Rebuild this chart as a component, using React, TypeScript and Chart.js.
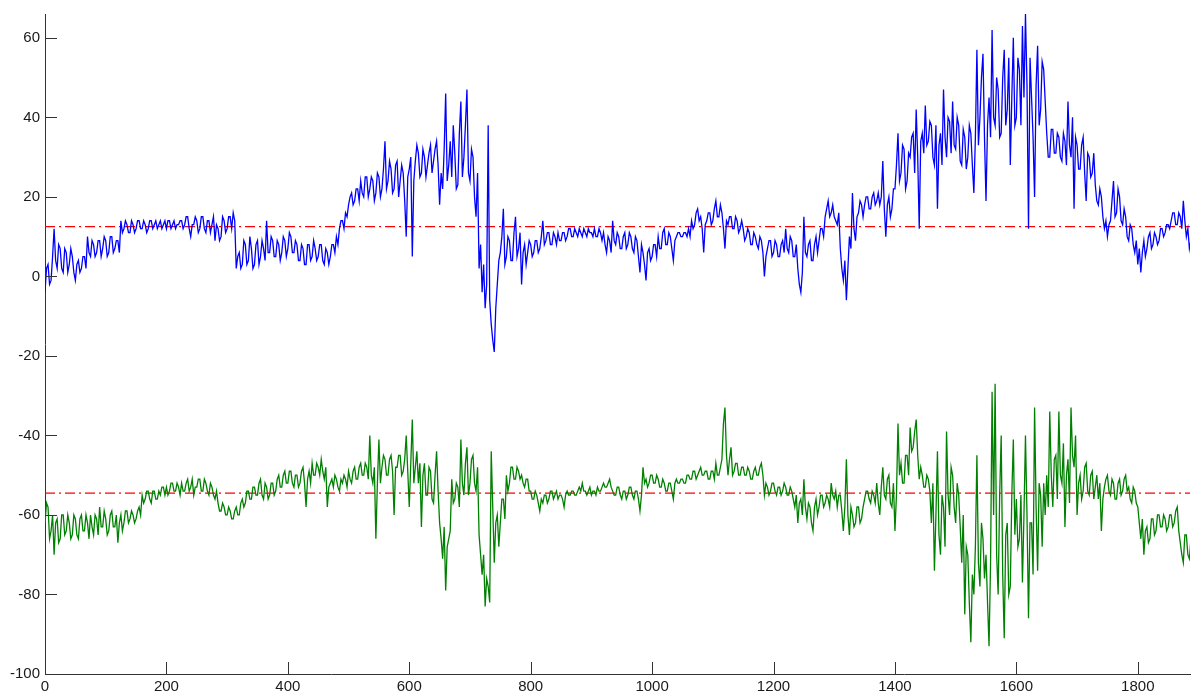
import { useEffect, useRef } from 'react';
import { Chart, registerables } from 'chart.js';

Chart.register(...registerables);

const SAMPLE_STEP = 5;

// upper (blue) series, one reading every 5 x-units from 0 to 1885
const blueValues = [
  -4, 3, -1, 12, 2, 7, 1, 6, 3, 5,
  -1, 4, 2, 5, 10, 5, 8, 6, 9, 7,
  9, 6, 10, 7, 9, 14, 12, 13, 11, 13,
  12, 14, 12, 13, 12, 14, 13, 12, 14, 13,
  12, 14, 13, 12, 13, 14, 13, 15, 10, 13,
  14, 12, 15, 11, 14, 13, 9, 12, 10, 14,
  12, 15, 16, 2, 6, 3, 8, 4, 7, 3,
  9, 5, 7, 14, 6, 9, 5, 8, 6, 9,
  7, 10, 6, 8, 4, 7, 3, 8, 5, 7,
  5, 8, 3, 6, 5, 8, 10, 12, 14, 16,
  18, 21, 19, 22, 24, 20, 25, 22, 24, 21,
  25, 22, 34, 24, 27, 22, 29, 24, 26, 10,
  27, 5, 29, 31, 26, 30, 28, 33, 29, 34,
  18, 22, 46, 28, 25, 31, 23, 44, 30, 47,
  24, 30, 15, 2, -4, -8, 38, -12, -19, -2,
  6, 17, 5, 9, 4, 15, 7, -2, 8, 6,
  8, 6, 9, 7, 14, 9, 11, 8, 10, 11,
  9, 11, 10, 12, 10, 11, 12, 10, 11, 12,
  11, 12, 10, 11, 11, 6, 9, 14, 8, 10,
  7, 11, 8, 10, 6, 9, 1, 6, -1, 7,
  5, 8, 10, 7, 12, 8, 10, 4, 10, 11,
  10, 11, 12, 14, 13, 17, 15, 6, 14, 16,
  14, 19, 15, 16, 7, 13, 15, 12, 14, 12,
  12, 10, 11, 8, 10, 7, 9, 0, 7, 9,
  6, 8, 5, 9, 12, 6, 9, 5, 2, -4,
  15, 5, 9, 4, 10, 9, 12, 15, 19, 16,
  15, 13, 7, -1, -6, 10, 21, 9, 16, 18,
  18, 20, 17, 21, 19, 18, 29, 10, 20, 17,
  22, 36, 26, 32, 24, 30, 36, 42, 12, 36,
  43, 34, 38, 28, 17, 36, 47, 30, 39, 44,
  32, 38, 28, 35, 30, 36, 21, 57, 40, 56,
  19, 45, 62, 38, 47, 36, 57, 42, 28, 60,
  40, 52, 63, 66, 12, 45, 20, 58, 42, 52,
  36, 30, 37, 31, 35, 29, 34, 44, 30, 17,
  33, 27, 35, 19, 30, 26, 23, 18, 20, 12,
  10, 14, 24, 16, 20, 13, 15, 9, 12, 6,
  3, 1, 9, 7, 11, 8, 10, 9, 12, 11,
  13, 14, 16, 13, 15, 19, 10, 7,
];

// blue readings half-way between the samples above (x = 2.5, 7.5, ...)
const blueMidValues = [
  2, -2, 5, 4, 8, 2, 7, 1, 7, 1,
  3, 1, 5, 2, 6, 9, 5, 9, 5, 10,
  5, 10, 6, 9, 6, 11, 14, 11, 14, 11,
  14, 12, 14, 11, 14, 12, 14, 13, 12, 14,
  14, 12, 14, 13, 14, 12, 15, 12, 13, 15,
  11, 15, 12, 14, 11, 15, 13, 9, 15, 11,
  15, 12, 14, 5, 2, 9, 3, 10, 2, 8,
  3, 9, 4, 6, 10, 5, 9, 4, 10, 5,
  11, 6, 9, 4, 8, 3, 8, 4, 9, 4,
  8, 4, 7, 3, 8, 6, 8, 14, 12, 15,
  20, 18, 22, 19, 21, 25, 20, 25, 19, 26,
  20, 27, 22, 29, 21, 28, 20, 28, 19, 25,
  30, 24, 33, 25, 32, 25, 31, 26, 32, 28,
  26, 32, 24, 34, 38, 22, 36, 25, 38, 26,
  32, 20, 26, 8, 3, -2, -6, -16, -8, 4,
  10, 3, 10, 4, 11, 5, 11, 6, 3, 9,
  5, 9, 6, 10, 8, 11, 8, 11, 8, 9,
  11, 9, 12, 10, 12, 10, 11, 12, 10, 11,
  10, 10, 12, 9, 8, 10, 6, 9, 11, 7,
  10, 7, 11, 7, 10, 5, 8, 3, 6, 4,
  8, 5, 7, 11, 8, 11, 7, 9, 11, 10,
  11, 10, 10, 12, 16, 14, 12, 13, 16, 13,
  17, 15, 18, 12, 14, 15, 12, 15, 11, 14,
  9, 12, 8, 11, 8, 10, 6, 5, 9, 5,
  9, 5, 8, 6, 7, 10, 5, 8, -2, 1,
  6, 8, 4, 8, 6, 12, 10, 17, 15, 18,
  14, 16, 2, 4, 2, 7, 12, 15, 19, 15,
  20, 17, 20, 18, 21, 20, 17, 18, 15, 22,
  28, 24, 33, 22, 31, 35, 26, 30, 34, 31,
  33, 39, 30, 38, 33, 28, 35, 40, 31, 33,
  40, 29, 37, 27, 38, 28, 35, 33, 50, 35,
  38, 35, 40, 50, 35, 50, 38, 55, 45, 38,
  55, 38, 45, 48, 55, 35, 48, 38, 54, 44,
  30, 37, 31, 36, 30, 36, 28, 33, 40, 35,
  27, 33, 26, 31, 25, 31, 19, 22, 15, 14,
  13, 19, 15, 22, 14, 17, 10, 13, 8, 9,
  7, 6, 5, 10, 7, 11, 8, 12, 10, 13,
  12, 16, 13, 16, 12, 14, 12, 9,
];

// lower (green) series, same sampling as blueValues
const greenValues = [
  -62, -58, -64, -70, -61, -66, -60, -64, -62, -65,
  -61, -66, -60, -64, -62, -60, -65, -61, -58, -63,
  -61, -64, -59, -63, -67, -60, -62, -59, -61, -60,
  -61, -58, -55, -56, -54, -57, -54, -56, -55, -53,
  -53, -54, -52, -54, -53, -52, -54, -51, -53, -55,
  -53, -51, -54, -52, -55, -53, -56, -57, -59, -58,
  -60, -59, -61, -58, -60, -56, -57, -54, -56, -53,
  -55, -51, -56, -53, -55, -52, -54, -50, -53, -49,
  -52, -49, -53, -50, -52, -48, -58, -49, -47, -50,
  -48, -46, -51, -58, -52, -53, -51, -54, -52, -51,
  -49, -52, -48, -51, -47, -50, -48, -40, -52, -66,
  -41, -48, -46, -50, -45, -60, -48, -45, -49, -40,
  -58, -36, -48, -52, -63, -47, -55, -49, -57, -44,
  -62, -71, -79, -66, -51, -56, -53, -41, -55, -43,
  -52, -45, -54, -65, -75, -83, -78, -44, -72, -60,
  -62, -56, -50, -52, -48, -51, -49, -50, -53, -51,
  -54, -56, -55, -59, -57, -55, -56, -54, -55, -56,
  -55, -58, -54, -55, -54, -55, -53, -52, -54, -54,
  -55, -54, -53, -54, -52, -53, -51, -54, -55, -53,
  -56, -54, -55, -53, -56, -54, -59, -48, -51, -52,
  -50, -52, -51, -53, -52, -54, -52, -56, -51, -52,
  -51, -52, -50, -51, -49, -50, -48, -50, -49, -51,
  -49, -47, -50, -46, -33, -50, -43, -49, -47, -50,
  -48, -50, -49, -51, -48, -50, -47, -55, -53, -54,
  -52, -55, -53, -54, -53, -55, -54, -58, -62, -56,
  -51, -61, -58, -64, -56, -58, -55, -57, -56, -52,
  -56, -58, -55, -64, -46, -65, -60, -62, -58, -61,
  -56, -54, -57, -55, -52, -60, -48, -56, -50, -58,
  -64, -37, -47, -52, -45, -38, -43, -36, -51, -50,
  -53, -51, -62, -74, -44, -70, -58, -39, -60, -50,
  -62, -55, -72, -85, -70, -92, -80, -45, -78, -66,
  -70, -93, -29, -27, -80, -40, -91, -62, -78, -41,
  -56, -66, -77, -40, -86, -62, -33, -74, -55, -52,
  -50, -34, -58, -45, -34, -52, -63, -46, -33, -48,
  -60, -50, -54, -47, -55, -49, -53, -56, -64, -53,
  -50, -55, -52, -56, -51, -54, -50, -53, -57, -54,
  -58, -66, -70, -63, -66, -61, -64, -60, -63, -61,
  -63, -60, -62, -58, -67, -72, -65, -71,
];

// green readings half-way between the samples above
const greenMidValues = [
  -57, -66, -60, -62, -67, -60, -65, -60, -66, -60,
  -65, -61, -64, -60, -66, -63, -60, -65, -63, -59,
  -65, -60, -63, -60, -62, -64, -59, -62, -59, -62,
  -59, -60, -57, -54, -56, -54, -56, -54, -53, -55,
  -55, -52, -54, -52, -55, -54, -52, -54, -51, -53,
  -51, -54, -51, -54, -52, -55, -54, -59, -57, -60,
  -58, -61, -59, -60, -57, -58, -54, -56, -53, -55,
  -52, -55, -52, -56, -52, -55, -51, -53, -50, -52,
  -49, -52, -50, -53, -49, -52, -51, -52, -50, -47,
  -50, -49, -48, -53, -51, -50, -53, -51, -50, -53,
  -51, -49, -51, -48, -50, -47, -51, -50, -48, -52,
  -52, -45, -50, -46, -49, -48, -45, -50, -46, -49,
  -47, -52, -44, -47, -50, -55, -48, -56, -50, -54,
  -66, -63, -68, -64, -57, -52, -58, -52, -47, -55,
  -46, -52, -48, -70, -70, -76, -82, -58, -62, -68,
  -56, -61, -54, -48, -51, -48, -51, -52, -51, -54,
  -56, -54, -57, -56, -55, -57, -54, -56, -54, -55,
  -56, -55, -55, -54, -55, -54, -54, -54, -55, -53,
  -54, -55, -54, -53, -53, -52, -53, -55, -53, -55,
  -54, -56, -53, -55, -54, -56, -55, -52, -53, -50,
  -52, -50, -53, -51, -54, -52, -54, -52, -52, -51,
  -52, -50, -51, -49, -51, -49, -50, -49, -51, -49,
  -51, -50, -48, -37, -45, -46, -50, -47, -50, -48,
  -50, -48, -51, -49, -50, -48, -50, -52, -55, -52,
  -54, -53, -55, -52, -55, -53, -56, -55, -57, -60,
  -58, -57, -62, -58, -60, -55, -58, -55, -58, -55,
  -54, -55, -59, -58, -60, -58, -63, -58, -62, -58,
  -54, -56, -54, -57, -57, -53, -55, -51, -57, -52,
  -55, -50, -52, -45, -50, -44, -39, -45, -48, -53,
  -50, -54, -52, -60, -65, -55, -68, -55, -48, -58,
  -52, -63, -60, -68, -82, -75, -68, -72, -62, -76,
  -82, -72, -60, -70, -55, -75, -65, -80, -55, -65,
  -68, -55, -60, -60, -62, -75, -58, -52, -68, -60,
  -58, -50, -46, -56, -50, -42, -50, -57, -45, -40,
  -52, -56, -48, -54, -50, -56, -50, -52, -56, -51,
  -54, -51, -56, -52, -55, -51, -54, -56, -53, -57,
  -62, -61, -64, -67, -61, -65, -60, -63, -60, -64,
  -60, -63, -59, -64, -70, -65, -70, -66,
];

// mean reference levels (red dash-dot lines)
const meanLevels = [12.5, -54.5];

const xRange = [0, 1886];
const yRange = [-100, 66];
const xTickValues = [0, 200, 400, 600, 800, 1000, 1200, 1400, 1600, 1800];
const yTickValues = [-100, -80, -60, -40, -20, 0, 20, 40, 60];

const AXIS_COLOR = '#333333';
const FONT = { family: '"Liberation Sans", Arial, Helvetica, sans-serif', size: 15 };

const inwardTicks = {
  id: 'inwardTicks',
  afterDraw(chart: any) {
    const { ctx, chartArea, scales } = chart;
    ctx.save();
    ctx.strokeStyle = AXIS_COLOR;
    ctx.lineWidth = 1;
    scales.x.ticks.forEach((t: any) => {
      const px = Math.round(scales.x.getPixelForValue(t.value)) + 0.5;
      ctx.beginPath();
      ctx.moveTo(px, chartArea.bottom);
      ctx.lineTo(px, chartArea.bottom - 12);
      ctx.stroke();
    });
    scales.y.ticks.forEach((t: any) => {
      const py = Math.round(scales.y.getPixelForValue(t.value)) + 0.5;
      ctx.beginPath();
      ctx.moveTo(chartArea.left, py);
      ctx.lineTo(chartArea.left + 12, py);
      ctx.stroke();
    });
    ctx.restore();
  },
};

export default function App() {
  const canvasRef = useRef<HTMLCanvasElement | null>(null);

  useEffect(() => {
    document.body.style.margin = '0';
    const canvas = canvasRef.current;
    if (!canvas) return;

    const toPoints = (vals: number[], mids: number[]) => {
      const pts: { x: number; y: number }[] = [];
      vals.forEach((v, i) => {
        pts.push({ x: i * SAMPLE_STEP, y: v });
        pts.push({ x: i * SAMPLE_STEP + SAMPLE_STEP / 2, y: mids[i] });
      });
      return pts;
    };
    const meanLine = (level: number) => [
      { x: xRange[0], y: level },
      { x: xRange[1], y: level },
    ];

    const chart = new Chart(canvas, {
      type: 'line',
      data: {
        datasets: [
          {
            data: toPoints(blueValues, blueMidValues),
            borderColor: '#0000ff',
            borderWidth: 1.3,
            pointRadius: 0,
            tension: 0,
          },
          {
            data: meanLine(meanLevels[0]),
            borderColor: '#ff0000',
            borderWidth: 1.2,
            borderDash: [10, 4, 2, 4],
            pointRadius: 0,
          },
          {
            data: toPoints(greenValues, greenMidValues),
            borderColor: '#008000',
            borderWidth: 1.3,
            pointRadius: 0,
            tension: 0,
          },
          {
            data: meanLine(meanLevels[1]),
            borderColor: '#ff0000',
            borderWidth: 1.2,
            borderDash: [10, 4, 2, 4],
            pointRadius: 0,
          },
        ],
      },
      options: {
        responsive: false,
        animation: false,
        events: [],
        layout: { padding: { top: 13, right: 5, left: 0, bottom: 0 } },
        plugins: {
          legend: { display: false },
          tooltip: { enabled: false },
        },
        scales: {
          x: {
            type: 'linear',
            min: xRange[0],
            max: xRange[1],
            afterBuildTicks: (s: any) => {
              s.ticks = xTickValues.map((v) => ({ value: v }));
            },
            afterFit: (s: any) => {
              s.height = 21;
            },
            ticks: {
              font: FONT,
              color: '#1a1a1a',
              padding: 4,
              maxRotation: 0,
              autoSkip: false,
              includeBounds: false,
              callback: (v: any) => String(v),
            },
            grid: { display: true, drawOnChartArea: false, drawTicks: false },
            border: { display: true, color: AXIS_COLOR, width: 1 },
          },
          y: {
            type: 'linear',
            min: yRange[0],
            max: yRange[1],
            afterBuildTicks: (s: any) => {
              s.ticks = yTickValues.map((v) => ({ value: v }));
            },
            afterFit: (s: any) => {
              s.width = 45;
            },
            ticks: {
              font: FONT,
              color: '#1a1a1a',
              padding: 5,
              autoSkip: false,
              includeBounds: false,
              callback: (v: any) => String(v),
            },
            grid: { display: true, drawOnChartArea: false, drawTicks: false },
            border: { display: true, color: AXIS_COLOR, width: 1 },
          },
        },
      },
      plugins: [inwardTicks],
    });

    return () => chart.destroy();
  }, []);

  return (
    <div style={{ width: 1195, height: 695, background: '#fff' }}>
      <canvas ref={canvasRef} width={1195} height={695} style={{ display: 'block' }} />
    </div>
  );
}
